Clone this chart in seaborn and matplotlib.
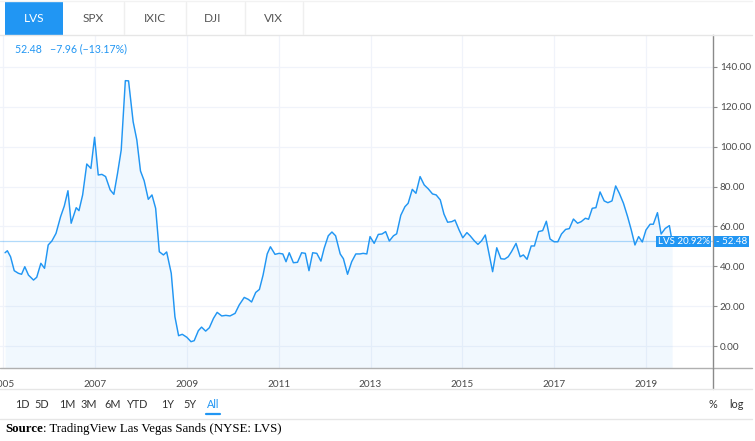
import matplotlib
matplotlib.use("Agg")
import matplotlib.pyplot as plt
import seaborn as sns
import pandas as pd
from matplotlib.patches import Rectangle
from matplotlib.lines import Line2D

# ---------------- data ----------------
years = [
    2005.04, 2005.09, 2005.16, 2005.24, 2005.33, 2005.40, 2005.47, 2005.55, 2005.66, 2005.73,
    2005.82, 2005.90, 2005.98, 2006.06, 2006.15, 2006.25, 2006.33, 2006.41, 2006.48, 2006.59,
    2006.65, 2006.73, 2006.82, 2006.91, 2006.99, 2007.07, 2007.15, 2007.23, 2007.33, 2007.41,
    2007.49, 2007.57, 2007.66, 2007.73, 2007.83, 2007.91, 2007.99, 2008.07, 2008.16, 2008.24,
    2008.32, 2008.40, 2008.49, 2008.56, 2008.66, 2008.74, 2008.82, 2008.90, 2009.00, 2009.09,
    2009.16, 2009.25, 2009.32, 2009.41, 2009.49, 2009.58, 2009.66, 2009.76, 2009.85, 2009.94,
    2010.05, 2010.14, 2010.25, 2010.34, 2010.41, 2010.50, 2010.58, 2010.66, 2010.75, 2010.82,
    2010.92, 2011.01, 2011.09, 2011.16, 2011.23, 2011.32, 2011.41, 2011.50, 2011.58, 2011.66,
    2011.74, 2011.83, 2011.92, 2011.99, 2012.08, 2012.16, 2012.24, 2012.34, 2012.41, 2012.50,
    2012.59, 2012.68, 2012.77, 2012.84, 2012.92, 2012.99, 2013.08, 2013.17, 2013.25, 2013.33,
    2013.41, 2013.50, 2013.57, 2013.66, 2013.75, 2013.82, 2013.91, 2013.99, 2014.08, 2014.17,
    2014.26, 2014.35, 2014.43, 2014.52, 2014.60, 2014.68, 2014.77, 2014.84, 2014.93, 2015.01,
    2015.10, 2015.17, 2015.26, 2015.34, 2015.42, 2015.50, 2015.58, 2015.66, 2015.75, 2015.84,
    2015.92, 2016.00, 2016.07, 2016.17, 2016.26, 2016.33, 2016.41, 2016.50, 2016.57, 2016.66,
    2016.75, 2016.83, 2016.91, 2017.00, 2017.08, 2017.16, 2017.25, 2017.33, 2017.42, 2017.51,
    2017.59, 2017.68, 2017.75, 2017.83, 2017.91, 2018.00, 2018.09, 2018.17, 2018.26, 2018.34,
    2018.42, 2018.51, 2018.60, 2018.68, 2018.76, 2018.84, 2018.92, 2019.00, 2019.09, 2019.16,
    2019.25, 2019.33, 2019.42, 2019.51, 2019.57,
]
prices = [
    46.8, 47.8, 44.8, 37.8, 36.5, 36.0, 39.8, 35.6, 33.1, 34.5,
    41.5, 39.0, 50.7, 52.7, 56.5, 64.9, 70.2, 77.9, 61.6, 69.4,
    67.9, 75.8, 91.3, 89.1, 104.7, 85.8, 86.1, 85.0, 78.3, 76.1,
    86.6, 98.3, 133.1, 133.0, 112.5, 103.4, 87.8, 82.9, 73.6, 75.8,
    69.1, 47.3, 45.7, 47.2, 36.5, 14.7, 5.2, 5.9, 4.4, 2.2,
    2.7, 7.7, 9.5, 7.5, 9.2, 13.9, 16.9, 15.1, 15.4, 15.1,
    16.4, 20.6, 24.4, 23.4, 22.1, 26.9, 28.4, 35.6, 46.2, 49.8,
    46.0, 46.5, 46.2, 42.3, 46.8, 41.8, 42.0, 46.8, 46.5, 37.8,
    46.8, 46.5, 42.6, 49.0, 55.3, 57.2, 55.3, 46.2, 43.8, 36.0,
    42.3, 46.2, 46.2, 46.5, 46.2, 54.9, 51.5, 56.0, 56.2, 57.4,
    52.7, 55.3, 56.3, 65.6, 69.9, 71.6, 78.6, 76.6, 85.0, 80.8,
    78.8, 76.3, 75.8, 73.3, 66.2, 62.1, 62.4, 63.2, 58.2, 54.3,
    56.9, 55.3, 52.8, 51.0, 52.8, 55.7, 46.5, 37.3, 49.3, 43.8,
    43.6, 44.8, 47.3, 51.5, 44.8, 45.7, 43.5, 50.2, 50.2, 57.4,
    57.9, 62.6, 53.7, 52.3, 52.3, 56.2, 58.5, 58.9, 63.7, 61.6,
    62.4, 64.1, 63.6, 69.1, 69.4, 77.3, 72.8, 71.9, 72.8, 80.3,
    76.6, 71.6, 64.9, 58.2, 50.7, 54.9, 52.2, 58.2, 61.1, 61.1,
    66.9, 56.2, 59.0, 60.4, 52.48,
]
year_ticks = [2005, 2007, 2009, 2011, 2013, 2015, 2017, 2019]
year_labels = ["2005", "2007", "2009", "2011", "2013", "2015", "2017", "2019"]
price_ticks = [0, 20, 40, 60, 80, 100, 120, 140]
tabs = ["LVS", "SPX", "IXIC", "DJI", "VIX"]
ranges = ["1D", "5D", "1M", "3M", "6M", "YTD", "1Y", "5Y", "All"]
last_price = 52.48
change_text = "52.48   \u22127.96 (\u221213.17%)"
badge_text = "LVS 20.92%"
source_bold = "Source"
source_rest = ": TradingView Las Vegas Sands (NYSE: LVS)"

df = pd.DataFrame({"year": years, "price": prices})

# ---------------- style ----------------
sns.set_style("white")
plt.rcParams["font.family"] = ["Lato", "DejaVu Sans"]

BLUE = "#2196f3"
GRID = "#f0f3fa"
TXT = "#4a4a4a"
SEP = "#e6e6e6"
AX = "#8a8a8a"

W, H = 755, 441
fig = plt.figure(figsize=(W / 100, H / 100), dpi=100)


def fx(x):
    return x / W


def fy(y):
    return 1 - y / H


top_px, bot_px, right_px = 35, 368, 713
ax = fig.add_axes([0, fy(bot_px), fx(right_px), (bot_px - top_px) / H])

sns.lineplot(data=df, x="year", y="price", ax=ax, color=BLUE, linewidth=1.05)
ax.fill_between(df["year"], df["price"], -11, color=BLUE, alpha=0.06, linewidth=0)
ax.axhline(last_price, color=BLUE, alpha=0.35, linewidth=0.9, zorder=1)

ax.set_xlim(2004.93, 2020.46)
ax.set_ylim(-11, 156)
ax.set_xlabel("")
ax.set_ylabel("")

ax.set_xticks(year_ticks)
ax.set_xticklabels(year_labels)
ax.set_yticks(price_ticks)
ax.set_yticklabels([f"{v:.2f}" for v in price_ticks])
ax.yaxis.tick_right()
ax.tick_params(axis="y", length=3, width=0.8, color=AX, pad=2,
               labelsize=7.2, labelcolor=TXT)
ax.tick_params(axis="x", length=2.5, width=0.8, color="#c0c0c0", pad=6,
               labelsize=7.2, labelcolor=TXT, direction="out")
for lab in ax.get_yticklabels():
    lab.set_horizontalalignment("left")
ax.grid(True, color=GRID, linewidth=0.9)
ax.set_axisbelow(True)
for s in ["top", "left"]:
    ax.spines[s].set_visible(False)
ax.spines["bottom"].set_visible(False)
ax.spines["right"].set_color(AX)
ax.spines["right"].set_linewidth(1.0)

# ---------------- figure-level decorations ----------------
def hline(y, x0, x1, color, lw=1.0):
    fig.add_artist(Line2D([fx(x0), fx(x1)], [fy(y), fy(y)], color=color, lw=lw,
                          transform=fig.transFigure))


def vline(x, y0, y1, color, lw=1.0):
    fig.add_artist(Line2D([fx(x), fx(x)], [fy(y0), fy(y1)], color=color, lw=lw,
                          transform=fig.transFigure))


# tab bar
hline(0.5, 0, 752, "#f2f2f2")
hline(35, 0, 752, SEP)
fig.add_artist(Rectangle((fx(5), fy(35)), fx(58), 33 / H, facecolor=BLUE,
                         edgecolor="none", transform=fig.transFigure))
tab_x = [34, 93, 155, 213, 273]
for t, x in zip(tabs, tab_x):
    fig.text(fx(x), fy(18), t, ha="center", va="center", fontsize=8.6,
             color="white" if t == "LVS" else "#555555")
for x in [124, 186, 245, 303]:
    vline(x, 2, 34, "#efefef")

# legend value text
fig.text(fx(15), fy(49), change_text, ha="left", va="center", fontsize=7.6,
         color=BLUE)

# axes lines
hline(bot_px, 0, 752, "#b0b0b0", lw=1.0)
vline(right_px, bot_px, 389, AX, lw=1.0)

# price badge
fig.add_artist(Rectangle((fx(656), fy(247)), fx(55), 11 / H, facecolor=BLUE,
                         edgecolor="none", transform=fig.transFigure, zorder=5))
fig.add_artist(Rectangle((fx(714), fy(247)), fx(35), 11 / H, facecolor=BLUE,
                         edgecolor="none", transform=fig.transFigure, zorder=5))
fig.text(fx(683.5), fy(241.5), badge_text, ha="center", va="center",
         fontsize=7.0, color="white", zorder=6)
fig.text(fx(716), fy(241.5), f"- {last_price:.2f}", ha="left", va="center",
         fontsize=7.0, color="white", zorder=6)

# range buttons row
hline(389, 0, 752, SEP)
range_x = [22, 42, 67, 89, 113, 138, 168, 190, 213]
for r, x in zip(ranges, range_x):
    fig.text(fx(x), fy(404), r, ha="center", va="center", fontsize=7.8,
             color=BLUE if r == "All" else "#333333")
hline(414, 206, 220, BLUE, lw=1.6)
fig.text(fx(713), fy(404), "%", ha="center", va="center", fontsize=7.8, color="#333333")
fig.text(fx(737), fy(404), "log", ha="center", va="center", fontsize=7.8, color="#333333")
hline(419, 0, 752, SEP)

# source
t1 = fig.text(fx(5), fy(429), source_bold, ha="left", va="center", fontsize=9.3,
              fontweight="bold", family="Liberation Serif", color="black")
fig.canvas.draw()
bb = t1.get_window_extent()
fig.text(bb.x1 / fig.bbox.width, fy(429), source_rest, ha="left", va="center",
         fontsize=9.3, family="Liberation Serif", color="black")

fig.savefig("out.png", dpi=100)
